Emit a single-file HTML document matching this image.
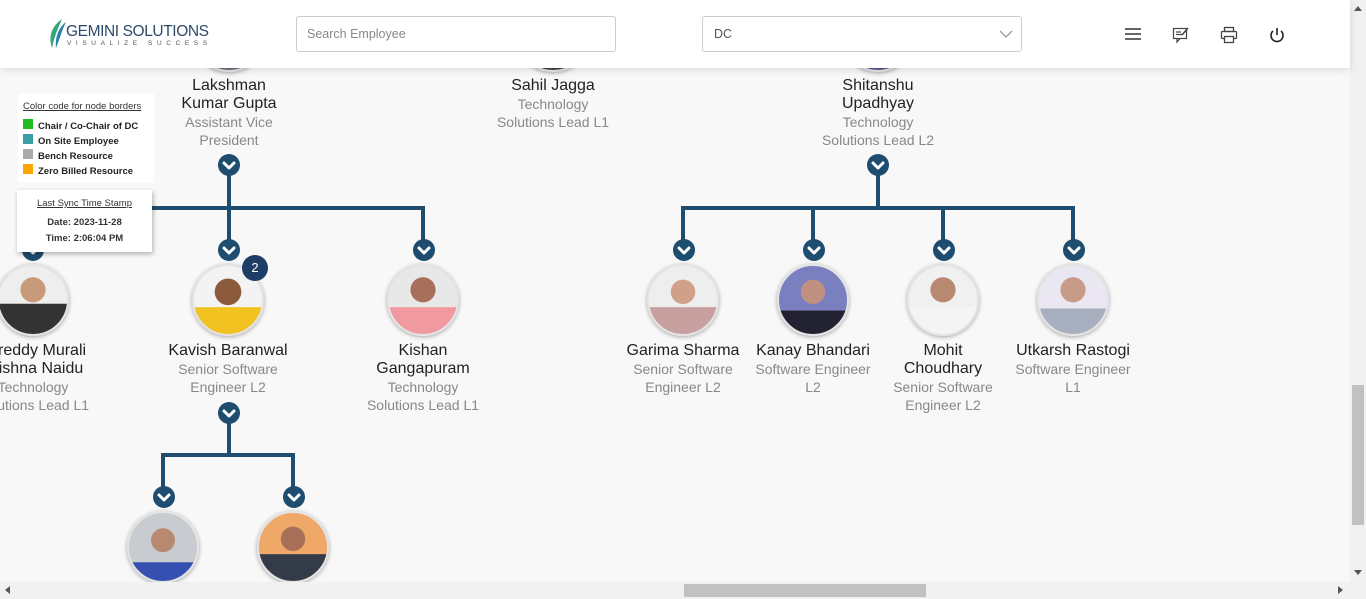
<!DOCTYPE html>
<html><head><meta charset="utf-8"><style>
*{margin:0;padding:0;box-sizing:border-box}
body{width:1366px;height:599px;overflow:hidden;background:#f8f8f8;font-family:"Liberation Sans",Arial,sans-serif;position:relative}
.hdr{position:absolute;left:0;top:0;width:1350px;height:68px;background:#fff;box-shadow:0 2px 8px rgba(0,0,0,.12);z-index:5}
.t{position:absolute;text-align:center;width:160px;font-size:16px;line-height:18px;color:#222}
.t .s{color:#888;font-size:14px;line-height:18px}
.av{position:absolute;width:72px;height:72px;border-radius:50%;border:2px solid #e4e4e4;box-shadow:0 1px 4px rgba(0,0,0,.35);overflow:hidden}
.leg{position:absolute;left:18px;top:93px;width:136px;height:90px;background:#fff;font-size:9.5px;font-weight:bold;color:#222}
.leg div{position:absolute;left:20px}
.sq{position:absolute;left:5px;width:10px;height:10px}
.sync{position:absolute;left:17px;top:190px;width:135px;height:62px;background:#fff;box-shadow:1px 2px 5px rgba(0,0,0,.3);font-size:9.5px;text-align:center;color:#333;z-index:3}
</style></head><body>
<div class="hdr">
 <svg style="position:absolute;left:46px;top:18px" width="22" height="32"><path d="M16 1 C6 8 2 18 6 30 C8 20 12 10 16 1Z" fill="#3aa57a"/><path d="M20 4 C12 10 9 20 10 30 C14 20 16 12 20 4Z" fill="#2d7fae"/></svg>
 <div style="position:absolute;left:66px;top:23px;font-size:15.5px;color:#2c4a6b;letter-spacing:-.4px">GEMINI SOLUTIONS</div>
 <div style="position:absolute;left:67px;top:40px;font-size:6.5px;color:#555;letter-spacing:4.6px">VISUALIZE SUCCESS</div>
 <div style="position:absolute;left:296px;top:16px;width:320px;height:36px;border:1px solid #ccc;border-radius:3px;font-size:12.5px;color:#888;padding:10px 10px">Search Employee</div>
 <div style="position:absolute;left:702px;top:16px;width:320px;height:36px;border:1px solid #ccc;border-radius:3px;font-size:12.5px;color:#555;padding:10px 11px">DC</div>
 <svg style="position:absolute;left:999px;top:29px" width="14" height="10"><path d="M1 2 L7 8 L13 2" stroke="#999" fill="none" stroke-width="1.3"/></svg>
 <svg style="position:absolute;left:1124px;top:26px" width="18" height="16"><path d="M1 3H17M1 8H17M1 13H17" stroke="#333" stroke-width="1.6"/></svg>
 <svg style="position:absolute;left:1172px;top:26px" width="18" height="18"><rect x="1.5" y="2.5" width="13" height="10" fill="none" stroke="#444" stroke-width="1.2"/><path d="M4 6H9M4 8.5H10M5 12.5 L5 16 L8 12.5" stroke="#444" fill="none" stroke-width="1.2"/><path d="M10 9 L16 2" stroke="#444" stroke-width="1.6"/></svg>
 <svg style="position:absolute;left:1220px;top:26px" width="18" height="18"><rect x="4.5" y="1.5" width="9" height="4" fill="none" stroke="#444" stroke-width="1.3"/><rect x="1.5" y="5.5" width="15" height="7" rx="1" fill="none" stroke="#444" stroke-width="1.3"/><rect x="4.5" y="10.5" width="9" height="6" fill="#fff" stroke="#444" stroke-width="1.3"/></svg>
 <svg style="position:absolute;left:1268px;top:26px" width="18" height="18"><path d="M5 5 A6 6 0 1 0 13 5" stroke="#222" fill="none" stroke-width="1.6"/><path d="M9 2V9" stroke="#222" stroke-width="1.6"/></svg>
</div>
<div class="av" style="left:193px;top:0px;background:#6b6f7a;z-index:1"></div>
<div class="av" style="left:517px;top:0px;background:#444;z-index:1"></div>
<div class="av" style="left:842px;top:0px;background:#5a5c8a;z-index:1"></div>

<svg style="position:absolute;left:0;top:0" width="1350" height="582">
 <g stroke="#1e4d6f" stroke-width="4" fill="none">
  <path d="M229 165V250M20 208H425M423 206V250M33 208V250"/>
  <path d="M878 165V208M681 208H1075M683 206V250M813 208V250M943 208V250M1073 206V250"/>
  <path d="M229 413V455M161 455H295M163 453V497M293 453V497"/>
 </g>
 <defs><g id="ch"><circle r="11" fill="#1e4d6f"/><path d="M-5 -2 L0 3 L5 -2" stroke="#fff" stroke-width="3" fill="none" stroke-linecap="round" stroke-linejoin="round"/></g></defs>
 <use href="#ch" x="229" y="165"/><use href="#ch" x="878" y="165"/>
 <use href="#ch" x="33" y="250"/><use href="#ch" x="229" y="250"/><use href="#ch" x="424" y="250"/>
 <use href="#ch" x="684" y="250"/><use href="#ch" x="814" y="250"/><use href="#ch" x="944" y="250"/><use href="#ch" x="1074" y="250"/>
 <use href="#ch" x="229" y="413"/><use href="#ch" x="164" y="497"/><use href="#ch" x="294" y="497"/>
</svg>

<div class="t" style="left:149px;top:77px">Lakshman<br>Kumar Gupta<div class="s">Assistant Vice<br>President</div></div>
<div class="t" style="left:473px;top:77px">Sahil Jagga<div class="s">Technology<br>Solutions Lead L1</div></div>
<div class="t" style="left:798px;top:77px">Shitanshu<br>Upadhyay<div class="s">Technology<br>Solutions Lead L2</div></div>

<div class="av" style="left:-3px;top:264px;background:radial-gradient(circle at 50% 35%,#c79a7a 0 22%,transparent 23%),linear-gradient(#eee 0 55%,#333 56%)"></div>
<div class="av" style="left:192px;top:264px;background:radial-gradient(circle at 50% 38%,#8a5a3a 0 24%,transparent 25%),linear-gradient(#f3f3f3 0 60%,#f2c320 61%)"></div>
<div class="av" style="left:387px;top:264px;background:radial-gradient(circle at 50% 35%,#a8705a 0 22%,transparent 23%),linear-gradient(#e8e8e8 0 60%,#f09aa0 61%)"></div>
<div class="av" style="left:647px;top:264px;background:radial-gradient(circle at 50% 38%,#d0a088 0 22%,transparent 23%),linear-gradient(#eee 0 60%,#c8a0a0 61%)"></div>
<div class="av" style="left:777px;top:264px;background:radial-gradient(circle at 50% 38%,#c09080 0 22%,transparent 23%),linear-gradient(#7a7fc0 0 65%,#223 66%)"></div>
<div class="av" style="left:907px;top:264px;background:radial-gradient(circle at 50% 35%,#b88870 0 22%,transparent 23%),linear-gradient(#f0f0f0 0 60%,#f4f4f4 61%)"></div>
<div class="av" style="left:1037px;top:264px;background:radial-gradient(circle at 50% 35%,#c89a88 0 22%,transparent 23%),linear-gradient(#eae6f2 0 62%,#a8b0c0 63%)"></div>
<div style="position:absolute;left:242px;top:255px;width:26px;height:26px;border-radius:50%;background:#1e3d66;color:#fff;font-size:13px;text-align:center;line-height:26px">2</div>

<div class="t" style="left:-47px;top:342px">Yereddy Murali<br>Krishna Naidu<div class="s">Technology<br>Solutions Lead L1</div></div>
<div class="t" style="left:148px;top:342px">Kavish Baranwal<div class="s">Senior Software<br>Engineer L2</div></div>
<div class="t" style="left:343px;top:342px">Kishan<br>Gangapuram<div class="s">Technology<br>Solutions Lead L1</div></div>
<div class="t" style="left:603px;top:342px">Garima Sharma<div class="s">Senior Software<br>Engineer L2</div></div>
<div class="t" style="left:733px;top:342px">Kanay Bhandari<div class="s">Software Engineer<br>L2</div></div>
<div class="t" style="left:863px;top:342px">Mohit<br>Choudhary<div class="s">Senior Software<br>Engineer L2</div></div>
<div class="t" style="left:993px;top:342px">Utkarsh Rastogi<div class="s">Software Engineer<br>L1</div></div>

<div class="av" style="left:127px;top:511px;background:radial-gradient(circle at 50% 40%,#b88870 0 22%,transparent 23%),linear-gradient(#c8ccd0 0 72%,#3550b0 73%)"></div>
<div class="av" style="left:257px;top:511px;background:radial-gradient(circle at 50% 38%,#a87058 0 22%,transparent 23%),linear-gradient(#f0a868 0 60%,#333a48 61%)"></div>

<div class="leg">
 <div style="left:5px;top:8px;font-weight:normal;text-decoration:underline;color:#333">Color code for node borders</div>
 <span class="sq" style="top:26px;background:#22bb22"></span><div style="top:28px">Chair / Co-Chair of DC</div>
 <span class="sq" style="top:41px;background:#3aa0a8"></span><div style="top:43px">On Site Employee</div>
 <span class="sq" style="top:56px;background:#aaa"></span><div style="top:58px">Bench Resource</div>
 <span class="sq" style="top:71px;background:#ffa500"></span><div style="top:73px">Zero Billed Resource</div>
</div>
<div class="sync"><div style="margin-top:8px;text-decoration:underline">Last Sync Time Stamp</div><div style="margin-top:8px;font-weight:bold">Date: 2023-11-28</div><div style="margin-top:5px;font-weight:bold">Time: 2:06:04 PM</div></div>

<div style="position:absolute;left:1350px;top:0;width:16px;height:582px;background:#f1f1f1"></div>
<div style="position:absolute;left:1352px;top:385px;width:12px;height:140px;background:#c1c1c1"></div>
<div style="position:absolute;left:1354px;top:6px;width:0;height:0;border-left:4px solid transparent;border-right:4px solid transparent;border-bottom:5px solid #555"></div>
<div style="position:absolute;left:1354px;top:570px;width:0;height:0;border-left:4px solid transparent;border-right:4px solid transparent;border-top:5px solid #555"></div>
<div style="position:absolute;left:0;top:582px;width:1366px;height:17px;background:#f1f1f1"></div>
<div style="position:absolute;left:684px;top:584px;width:242px;height:13px;background:#c1c1c1"></div>
<div style="position:absolute;left:5px;top:586px;border-top:4px solid transparent;border-bottom:4px solid transparent;border-right:5px solid #555"></div>
<div style="position:absolute;left:1338px;top:586px;border-top:4px solid transparent;border-bottom:4px solid transparent;border-left:5px solid #555"></div>
</body></html>
